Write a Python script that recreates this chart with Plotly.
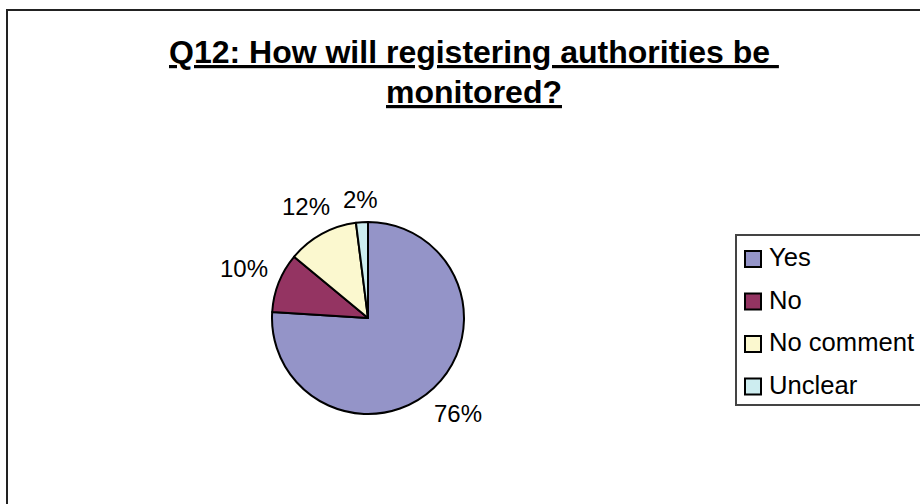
import math
import plotly.graph_objects as go

# Survey responses (percent of answers)
categories = ["Yes", "No", "No comment", "Unclear"]
shares = [76, 10, 12, 2]
slice_colors = ["#9494C8", "#943462", "#FBF8CF", "#CDEDF0"]
title_lines = ["Q12: How will registering authorities be", "monitored?"]

W, H = 920, 504
FONT = "Liberation Sans, Arial, sans-serif"

# pie geometry in pixels
cx, cy, r = 368, 318, 96


def px(x):
    return x / W


def py(y):
    return 1 - y / H


fig = go.Figure(
    go.Pie(
        labels=categories,
        values=shares,
        sort=False,
        direction="clockwise",
        rotation=0,
        marker=dict(colors=slice_colors, line=dict(color="black", width=2)),
        textinfo="none",
        hoverinfo="label+percent",
        showlegend=False,
        domain=dict(x=[px(cx - r), px(cx + r)], y=[py(cy + r), py(cy - r)]),
    )
)

annotations = []
shapes = []

# percentage labels placed just outside each slice
label_fs = 24
total = sum(shares)
cum = 0.0
for v in shares:
    mid = (cum + v / 2) / total * 2 * math.pi
    cum += v
    text = f"{round(v / total * 100)}%"
    ndig = len(text) - 1
    w = label_fs * (0.556 * ndig + 0.889)
    h = label_fs * 0.875
    s, c = math.sin(mid), math.cos(mid)
    d = r + 11 + abs(s) * w / 2 + abs(c) * h / 2
    lx, ly = cx + d * s, cy - d * c
    annotations.append(dict(
        x=px(lx), y=py(ly), xref="paper", yref="paper", text=text,
        showarrow=False, xanchor="center", yanchor="middle",
        font=dict(family=FONT, size=label_fs, color="black"),
    ))

# title, one annotation per line (underlined, bold)
title_fs = 32
title_centers = [52, 92]
title_texts = [f"<u>{title_lines[0]}&nbsp;</u>", f"<u>{title_lines[1]}</u>"]
for t, yc in zip(title_texts, title_centers):
    annotations.append(dict(
        x=px(474), y=py(yc), xref="paper", yref="paper", text=t,
        showarrow=False, xanchor="center", yanchor="middle",
        font=dict(family=FONT, size=title_fs, color="black", weight="bold"),
    ))

# chart area border (continues past the right and bottom edges)
shapes.append(dict(type="rect", xref="paper", yref="paper",
                   x0=px(7), y0=py(10), x1=px(940), y1=py(530),
                   line=dict(color="#222222", width=2), fillcolor="rgba(0,0,0,0)"))

# legend box
shapes.append(dict(type="rect", xref="paper", yref="paper",
                   x0=px(736), y0=py(235), x1=px(940), y1=py(405),
                   line=dict(color="#444444", width=2), fillcolor="white"))

leg_top, leg_step, sq = 259, 42.5, 16
for i, (name, col) in enumerate(zip(categories, slice_colors)):
    yc = leg_top + i * leg_step
    shapes.append(dict(type="rect", xref="paper", yref="paper",
                       x0=px(745), y0=py(yc - sq / 2), x1=px(745 + sq), y1=py(yc + sq / 2),
                       line=dict(color="black", width=2), fillcolor=col))
    annotations.append(dict(
        x=px(767), y=py(yc - 2), xref="paper", yref="paper", text=name,
        showarrow=False, xanchor="left", yanchor="middle",
        font=dict(family=FONT, size=25.6, color="black"),
    ))

fig.update_layout(
    width=W, height=H,
    margin=dict(l=0, r=0, t=0, b=0),
    paper_bgcolor="white", plot_bgcolor="white",
    annotations=annotations, shapes=shapes,
)

fig.write_html("out.html")
